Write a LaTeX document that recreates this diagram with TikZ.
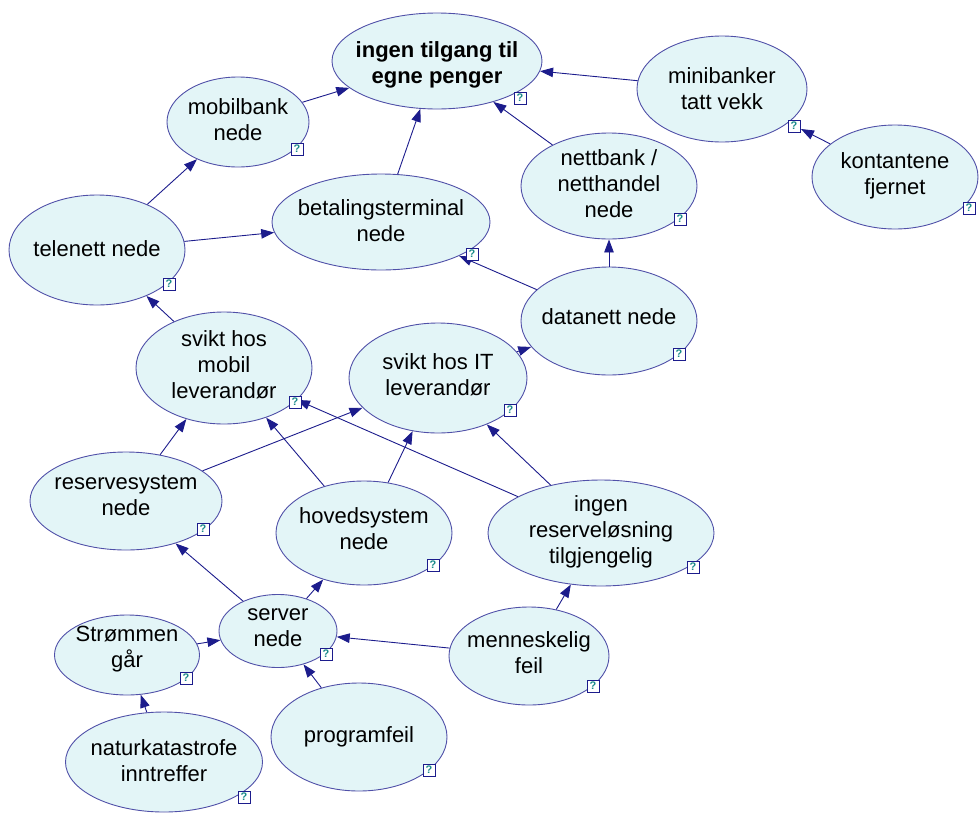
\documentclass[tikz,border=0pt]{standalone}
\usepackage{fontspec}
\setmainfont{Liberation Sans}
\usetikzlibrary{shapes.geometric,arrows.meta}
\definecolor{nodefill}{HTML}{E3F5F7}
\definecolor{nodeline}{HTML}{5050A8}
\definecolor{edgecol}{HTML}{1C1C8C}
\definecolor{qmark}{HTML}{1A8A8A}
\tikzset{
  cause/.style args={#1/#2}{ellipse, draw=nodeline, line width=0.9pt, fill=nodefill,
    minimum width=#1pt, minimum height=#2pt, inner sep=0pt},
  caption/.style={align=center, inner sep=0pt, font=\fontsize{22}{26}\selectfont},
  qicon/.style={draw=edgecol, fill=white, line width=0.8pt, minimum size=12pt,
    inner sep=0pt, text=qmark, font=\fontsize{11}{11}\selectfont\bfseries},
  link/.style={draw=edgecol, line width=0.9pt, -{Triangle[length=13pt,width=9.5pt]}},
}
\begin{document}
\begin{tikzpicture}[x=1pt,y=-1pt]
\useasboundingbox (0,0) rectangle (980,817);

% event ellipses
\node[cause=210/96] (top) at (437,61) {};
\node[cause=170/106] (mini) at (722,89) {};
\node[cause=166/104] (kont) at (895,177) {};
\node[cause=142/90] (mob) at (238,122) {};
\node[cause=176/106] (nett) at (609,186) {};
\node[cause=218/96] (bet) at (381,222) {};
\node[cause=176/110] (tele) at (97,250) {};
\node[cause=176/108] (data) at (609,321) {};
\node[cause=176/112] (smob) at (224,368) {};
\node[cause=178/110] (sit) at (438,378) {};
\node[cause=192/98] (res) at (126,501) {};
\node[cause=176/104] (hov) at (364,533) {};
\node[cause=226/106] (ingres) at (601,533) {};
\node[cause=118/73] (serv) at (278,631) {};
\node[cause=145/80] (strom) at (127,655) {};
\node[cause=160/98] (menn) at (529,656) {};
\node[cause=176/108] (prog) at (359,737) {};
\node[cause=197/100] (natur) at (164,762) {};

% event texts
\node[caption] (ttop) at (437,65) {\bfseries ingen tilgang til\\\bfseries egne penger};
\node[caption] (tmini) at (722,89) {minibanker\\tatt vekk};
\node[caption] (tkont) at (895,176) {kontantene\\fjernet};
\node[caption] (tmob) at (238,120) {mobilbank\\nede};
\node[caption] (tnett) at (609,184) {nettbank /\\netthandel\\nede};
\node[caption] (tbet) at (381,221) {betalingsterminal\\nede};
\node[caption] (ttele) at (97,249) {telenett nede};
\node[caption] (tdata) at (609,317) {datanett nede};
\node[caption] (tsmob) at (224,365) {svikt hos\\mobil\\leverand\o r};
\node[caption] (tsit) at (438,375) {svikt hos IT\\leverand\o r};
\node[caption] (tres) at (126,495) {reservesystem\\nede};
\node[caption] (thov) at (364,529) {hovedsystem\\nede};
\node[caption] (tingres) at (601,532) {ingen\\reservel\o sning\\tilgjengelig};
\node[caption] (tserv) at (278,628) {server\\nede};
\node[caption] (tstrom) at (127,649) {Str\o mmen\\g\aa r};
\node[caption] (tmenn) at (529,653) {menneskelig\\feil};
\node[caption] (tprog) at (359,737) {programfeil};
\node[caption] (tnatur) at (164,761) {naturkatastrofe\\inntreffer};

% the link into "minibanker" stops beside its help icon
\coordinate (miniin) at (801,129);

% causal links
\draw[link] (mob) -- (top);
\draw[link] (bet) -- (top);
\draw[link] (nett) -- (top);
\draw[link] (mini) -- (top);
\draw[link] (kont) -- (miniin);
\draw[link] (tele) -- (mob);
\draw[link] (tele) -- (bet);
\draw[link] (data) -- (bet);
\draw[link] (data) -- (nett);
\draw[link] (smob) -- (tele);
\draw[link] (sit) -- (data);
\draw[link] (res) -- (smob);
\draw[link] (res) -- (sit);
\draw[link] (hov) -- (smob);
\draw[link] (hov) -- (sit);
\draw[link] (ingres) -- (smob);
\draw[link] (ingres) -- (sit);
\draw[link] (serv) -- (res);
\draw[link] (serv) -- (hov);
\draw[link] (strom) -- (serv);
\draw[link] (menn) -- (serv);
\draw[link] (menn) -- (ingres);
\draw[link] (prog) -- (serv);
\draw[link] (natur) -- (strom);

% help icons, on top of the links
\node[qicon] (q1) at (520,98) {?};
\node[qicon] (q2) at (794,126) {?};
\node[qicon] (q3) at (969,208) {?};
\node[qicon] (q4) at (297,149) {?};
\node[qicon] (q5) at (680,219) {?};
\node[qicon] (q6) at (472,254) {?};
\node[qicon] (q7) at (169,284) {?};
\node[qicon] (q8) at (679,354) {?};
\node[qicon] (q9) at (295,402) {?};
\node[qicon] (q10) at (510,410) {?};
\node[qicon] (q11) at (203,529) {?};
\node[qicon] (q12) at (433,565) {?};
\node[qicon] (q13) at (693,567) {?};
\node[qicon] (q14) at (326,654) {?};
\node[qicon] (q15) at (186,678) {?};
\node[qicon] (q16) at (593,686) {?};
\node[qicon] (q17) at (429,770) {?};
\node[qicon] (q18) at (244,797) {?};
\end{tikzpicture}
\end{document}
